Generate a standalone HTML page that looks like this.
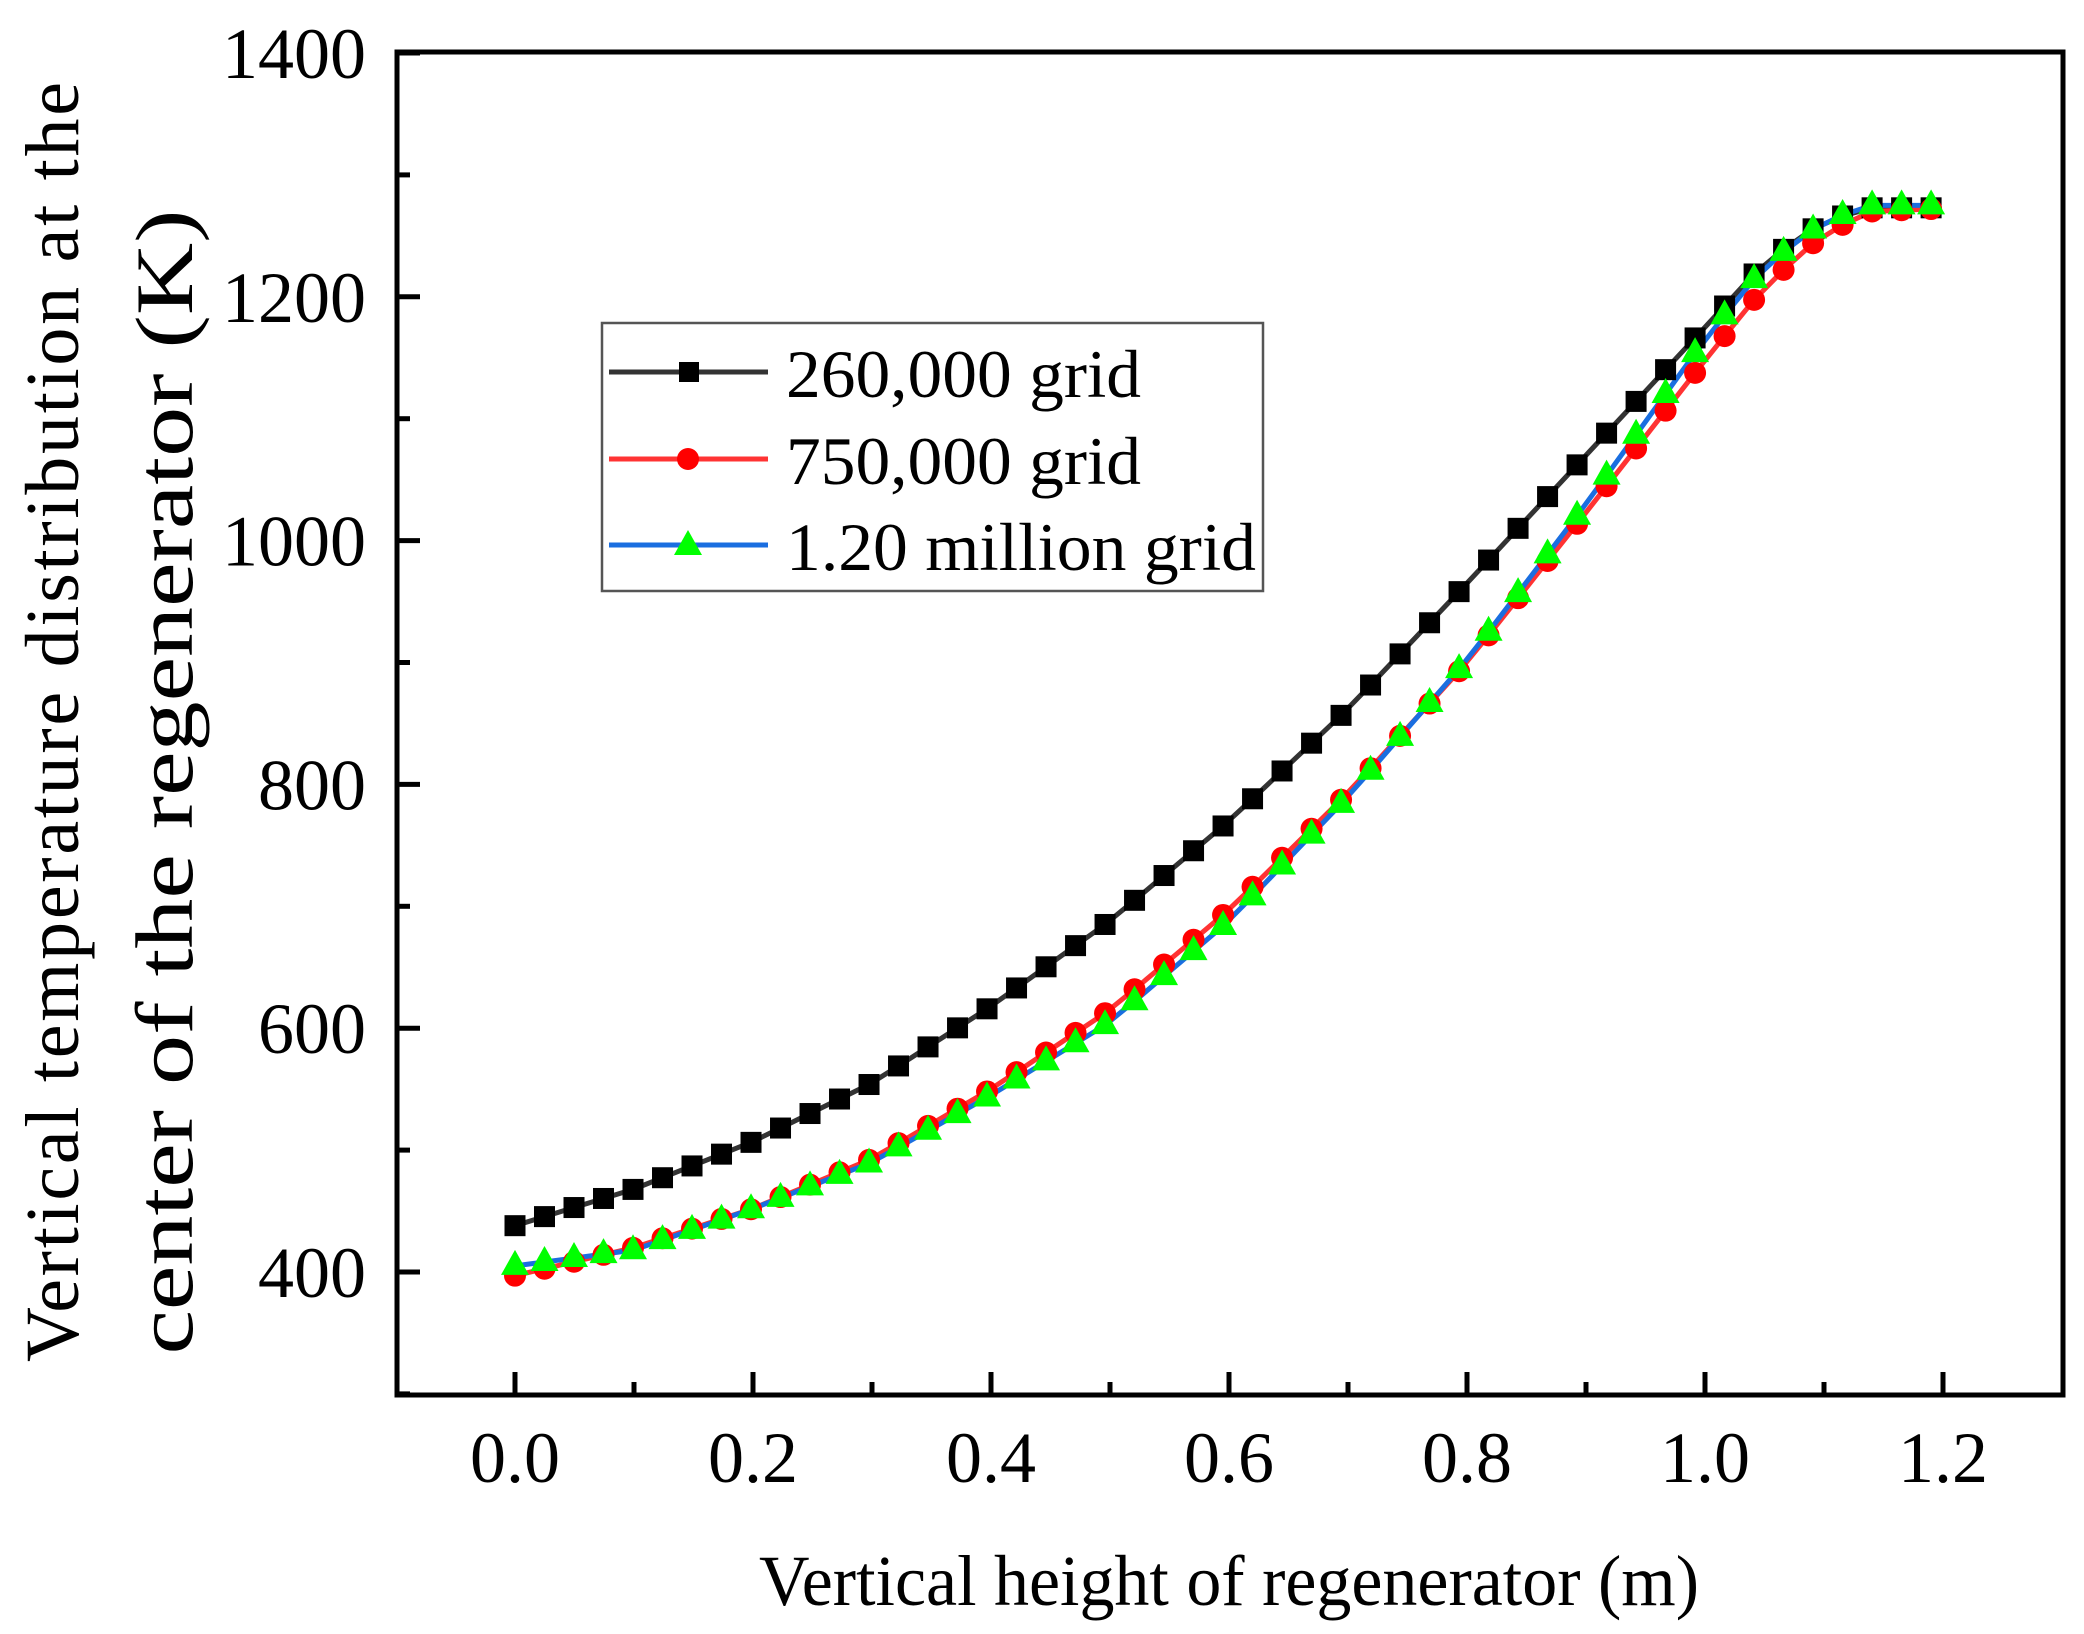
<!DOCTYPE html>
<html><head><meta charset="utf-8"><style>
html,body{margin:0;padding:0;background:#fff;}
svg{display:block;font-family:"Liberation Serif",serif;}
</style></head><body>
<svg id="s" width="2084" height="1634" viewBox="0 0 2084 1634" xmlns="http://www.w3.org/2000/svg">
<rect width="2084" height="1634" fill="#fff"/>
<g id="plot"></g>
<rect x="397" y="52" width="1666" height="1343" fill="none" stroke="#000" stroke-width="5"/>
<g id="ticks" stroke="#000" stroke-width="5"></g>
<g font-size="72" fill="#000" text-anchor="end" id="ylab"></g>
<g font-size="72" fill="#000" text-anchor="middle" id="xlab"></g>
<text x="1229" y="1605" font-size="72" text-anchor="middle" textLength="940" lengthAdjust="spacingAndGlyphs">Vertical height of regenerator (m)</text>
<text transform="translate(78,722) rotate(-90)" font-size="76" text-anchor="middle" textLength="1280" lengthAdjust="spacing">Vertical temperature distribution at the</text>
<text transform="translate(192,782) rotate(-90)" font-size="82" text-anchor="middle" textLength="1145" lengthAdjust="spacingAndGlyphs">center of the regenerator (K)</text>
<rect x="602" y="323" width="661" height="268" fill="#fff" stroke="#555" stroke-width="2.5"/>
<line x1="609" y1="372" x2="768" y2="372" stroke="#333" stroke-width="5"/>
<rect x="679" y="362" width="20" height="20" fill="#000"/>
<text x="786" y="397" font-size="68" textLength="355" lengthAdjust="spacingAndGlyphs">260,000 grid</text>
<line x1="609" y1="459" x2="768" y2="459" stroke="#f33" stroke-width="5"/>
<circle cx="688" cy="459" r="11" fill="#f00"/>
<text x="786" y="484" font-size="68" textLength="355" lengthAdjust="spacingAndGlyphs">750,000 grid</text>
<line x1="609" y1="545" x2="768" y2="545" stroke="#1a6ee0" stroke-width="5"/>
<polygon points="688,530 702,555 674,555" fill="#0f0"/>
<text x="786" y="570" font-size="68" textLength="470" lengthAdjust="spacingAndGlyphs">1.20 million grid</text>
</svg>
<script>
const X=x=>515+x*1190, Y=t=>1272-(t-400)*1.219;
const NS="http://www.w3.org/2000/svg";
function el(p,n,a,txt){const e=document.createElementNS(NS,n);for(const k in a)e.setAttribute(k,a[k]);if(txt!=null)e.textContent=txt;p.appendChild(e);return e;}
const tk=document.getElementById('ticks'),yl=document.getElementById('ylab'),xl=document.getElementById('xlab');
for(let t=300;t<=1400;t+=100){const y=Y(t);const maj=(t%200===0);el(tk,'line',{x1:397,y1:y,x2:397+(maj?23:13),y2:y});if(maj)el(yl,'text',{x:366,y:y+25},String(t));}
for(let i=0;i<=12;i++){const x=X(i*0.1);const maj=i%2===0;el(tk,'line',{x1:x,y1:1395,x2:x,y2:1395-(maj?23:13)});if(maj)el(xl,'text',{x:x,y:1482},(i*0.1).toFixed(1));}
const B=[[0,438],[0.1,468],[0.2,507],[0.3,555],[0.4,618],[0.5,688],[0.6,770],[0.7,862],[0.8,965],[0.9,1070],[1.0,1175],[1.05,1228],[1.1,1262],[1.14,1273],[1.19,1273]];
const R=[[0,397],[0.1,420],[0.2,452],[0.3,493],[0.4,550],[0.5,615],[0.6,697],[0.7,793],[0.8,900],[0.9,1023],[1.0,1148],[1.05,1208],[1.1,1252],[1.14,1270],[1.19,1272]];
const G=[[0,405],[0.1,418],[0.2,452],[0.3,490],[0.4,545],[0.5,605],[0.6,688],[0.7,790],[0.8,902],[0.9,1030],[1.0,1165],[1.05,1225],[1.1,1262],[1.14,1275],[1.19,1275]];
function interp(c,x){for(let i=0;i<c.length-1;i++){if(x<=c[i+1][0]){const f=(x-c[i][0])/(c[i+1][0]-c[i][0]);return c[i][1]+f*(c[i+1][1]-c[i][1]);}}return c[c.length-1][1];}
const N=49,xs=[];for(let i=0;i<N;i++)xs.push(i*1.19/48);
const pl=document.getElementById('plot');
function series(c,col){const pts=xs.map(x=>[X(x),Y(interp(c,x))]);
el(pl,'polyline',{points:pts.map(p=>p.join(',')).join(' '),fill:'none',stroke:col,'stroke-width':5,'stroke-linejoin':'round'});
return pts;}
const pb=series(B,'#333'),pr=series(R,'#f33'),pg=series(G,'#1a6ee0');
pb.forEach(p=>el(pl,'rect',{x:p[0]-10.5,y:p[1]-10.5,width:21,height:21,fill:'#000'}));
pr.forEach(p=>el(pl,'circle',{cx:p[0],cy:p[1],r:11,fill:'#f00'}));
pg.forEach(p=>el(pl,'polygon',{points:`${p[0]},${p[1]-16} ${p[0]+14},${p[1]+9} ${p[0]-14},${p[1]+9}`,fill:'#0f0'}));
</script>
</body></html>
